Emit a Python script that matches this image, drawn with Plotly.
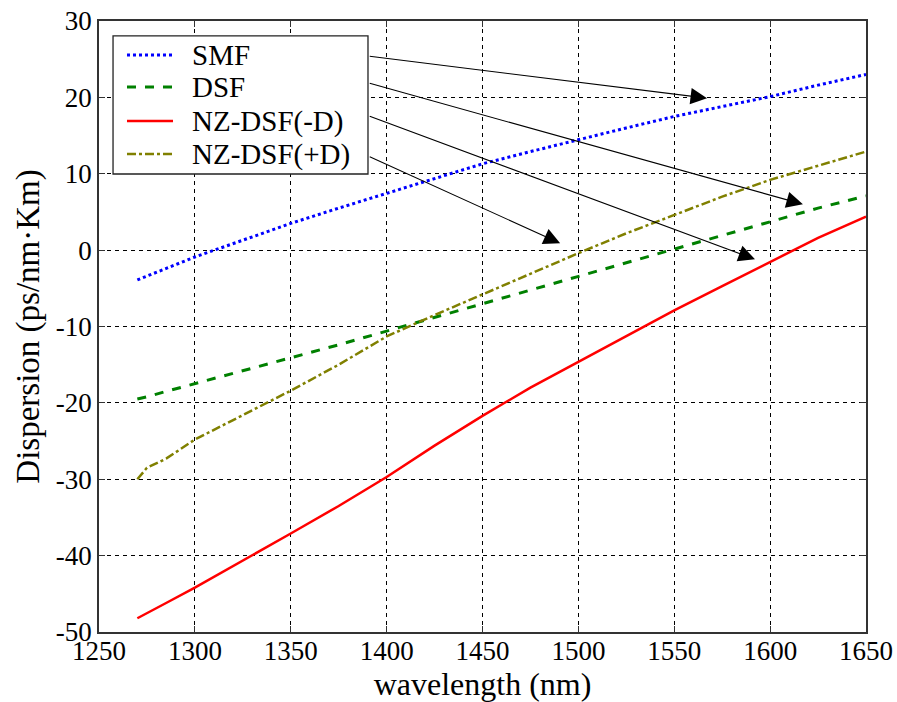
import plotly.graph_objects as go

wavelength = [1270, 1275, 1285, 1300, 1325, 1350, 1375, 1400, 1425, 1450, 1475, 1500, 1525, 1550, 1575, 1600, 1625, 1650]
smf = [-3.9, -3.4, -2.3, -0.9, 1.3, 3.5, 5.5, 7.4, 9.4, 11.3, 12.9, 14.5, 16.0, 17.5, 18.8, 20.1, 21.6, 23.0]
dsf = [-19.5, -19.2, -18.5, -17.5, -15.8, -14.1, -12.4, -10.6, -8.8, -7.0, -5.2, -3.4, -1.6, 0.1, 2.0, 3.8, 5.5, 7.1]
nzdsf_neg = [-48.2, -47.5, -46.2, -44.2, -40.7, -37.1, -33.5, -29.7, -25.6, -21.7, -18.0, -14.6, -11.3, -7.9, -4.7, -1.5, 1.6, 4.4]
nzdsf_pos = [-30.0, -28.5, -27.3, -24.8, -21.6, -18.4, -15.0, -11.3, -8.5, -5.8, -3.0, -0.4, 2.2, 4.6, 7.0, 9.2, 11.0, 12.9]

series_names = ["SMF", "DSF", "NZ-DSF(-D)", "NZ-DSF(+D)"]
xticks = [1250, 1300, 1350, 1400, 1450, 1500, 1550, 1600, 1650]
yticks = [-50, -40, -30, -20, -10, 0, 10, 20, 30]

# arrows: (tail x, tail y) at legend edge -> (head x, head y)
arrow_tail_x = [1390.4, 1390.4, 1390.4, 1390.4]
arrow_tail_y = [25.4, 21.9, 17.6, 12.3]
arrow_head_x = [1567.1, 1617.1, 1592.1, 1490.5]
arrow_head_y = [19.9, 6.0, -1.2, 0.9]

FONT = "Liberation Serif, Times New Roman, serif"

fig = go.Figure()
styles = [
    dict(color="#0000ff", dash="dot", width=3),
    dict(color="#008000", dash="dash", width=3),
    dict(color="#ff0000", dash="solid", width=2.5),
    dict(color="#808000", dash="dashdot", width=2.5),
]
for name, ys, st in zip(series_names, [smf, dsf, nzdsf_neg, nzdsf_pos], styles):
    fig.add_trace(go.Scatter(x=wavelength, y=ys, mode="lines", name=name, line=st, showlegend=False))

# legend box drawn in paper coordinates (MATLAB-style legend)
leg_x0, leg_x1, leg_y0, leg_y1 = 0.0183, 0.3507, 0.7496, 0.9755
entry_y = [0.9444, 0.892, 0.8363, 0.7823]
fig.add_shape(type="rect", xref="paper", yref="paper", x0=leg_x0, x1=leg_x1, y0=leg_y0, y1=leg_y1,
              fillcolor="white", line=dict(color="#222222", width=1.3), layer="above")
for name, st, ey in zip(series_names, styles, entry_y):
    fig.add_shape(type="line", xref="paper", yref="paper", x0=0.0365, x1=0.0965, y0=ey, y1=ey,
                  line=dict(color=st["color"], dash=st["dash"], width=st["width"]), layer="above")
    fig.add_annotation(xref="paper", yref="paper", x=0.1186, y=ey, xanchor="left", yanchor="middle",
                       text=name, showarrow=False, font=dict(family=FONT, size=29, color="black"))

for tx, ty, hx, hy in zip(arrow_tail_x, arrow_tail_y, arrow_head_x, arrow_head_y):
    fig.add_annotation(x=hx, y=hy, ax=tx, ay=ty, xref="x", yref="y", axref="x", ayref="y",
                       text="", showarrow=True, arrowhead=2, arrowsize=3, arrowwidth=1.1,
                       arrowcolor="black", standoff=0, startstandoff=0)

axis_common = dict(
    showline=True, linecolor="#333333", linewidth=1.5, mirror="ticks",
    ticks="inside", ticklen=6, tickcolor="#333333",
    showgrid=True, gridcolor="black", gridwidth=1, griddash="4px,4px",
    zeroline=False, tickfont=dict(family=FONT, size=27, color="black"),
    automargin=False,
)
fig.update_xaxes(range=[1250, 1650], tickvals=xticks, ticktext=[str(v) for v in xticks],
                 ticklabelstandoff=-6,
                 title=dict(text="wavelength (nm)", font=dict(family=FONT, size=32, color="black"), standoff=14),
                 **axis_common)
fig.update_yaxes(range=[-50, 30], tickvals=yticks, ticktext=[str(v) for v in yticks],
                 title=dict(text="Dispersion (ps/nm·Km)", font=dict(family=FONT, size=33, color="black"), standoff=6),
                 **axis_common)

fig.update_layout(
    width=897, height=702,
    margin=dict(l=99, r=31, t=21, b=70),
    paper_bgcolor="white", plot_bgcolor="white",
    font=dict(family=FONT, color="black"),
    showlegend=False,
)

fig.write_html("out.html")
